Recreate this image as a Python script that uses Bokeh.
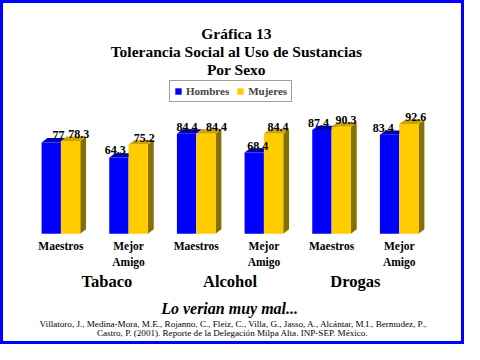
from bokeh.plotting import figure
from bokeh.models import Range1d, Legend, LegendItem
from bokeh.embed import file_html
from bokeh.resources import INLINE
from bokeh.core.properties import value

# ---------------- data ----------------
categories_line1 = ["Maestros", "Mejor", "Maestros", "Mejor", "Maestros", "Mejor"]
categories_line2 = ["", "Amigo", "", "Amigo", "", "Amigo"]
groups = ["Tabaco", "Alcohol", "Drogas"]
series = ["Hombres", "Mujeres"]
hombres = [77, 64.3, 84.4, 68.4, 87.4, 83.4]
mujeres = [78.3, 75.2, 84.4, 84.4, 90.3, 92.6]
title_lines = ["Gráfica 13", "Tolerancia Social al Uso de Sustancias", "Por Sexo"]
subtitle = "Lo verian muy mal..."
citation = ["Villatoro, J., Medina-Mora, M.E., Rojanno, C., Fleiz, C., Villa, G., Jasso, A., Alcántar, M.I., Bermudez, P.,",
            "Castro, P. (2001). Reporte de la Delegación Milpa Alta. INP-SEP. México."]

# ---------------- style / layout (reference pixel space 480x360) ----------------
REF_W, REF_H = 480, 360
W, H = 464, 344
X0_PX, PX_PER_X = 62.5, 70.0
Y0_PX, PX_PER_Y = 244.0, 1.24
label_dx_h_px = [7.5, -3.8, 0.5, 3.5, -3.5, -6.5]   # label nudges, px
label_dx_m_px = [8.5, 6.2, 11.0, 4.5, 5.0, 7.0]
group_dx_px = [12.5, 0, -10.5]

def fx(px): return (px - X0_PX) / PX_PER_X
def fy(py): return (Y0_PX - py) / PX_PER_Y
def dxp(px): return px / PX_PER_X
def dyp(py): return py / PX_PER_Y

SERIF = "Liberation Serif"
BLUE, BLUE_TOP = "#0000FF", "#0000B4"
GOLD, GOLD_TOP, GOLD_SIDE = "#FFCC00", "#CCA300", "#857000"

p = figure(width=W, height=H,
           x_range=Range1d(fx(0), fx(REF_W)), y_range=Range1d(fy(REF_H), fy(0)),
           output_backend="svg", toolbar_location=None,
           x_axis_location=None, y_axis_location=None,
           min_border=0, min_border_left=0, min_border_right=0,
           min_border_top=0, min_border_bottom=0)
p.xgrid.visible = False
p.ygrid.visible = False
p.background_fill_color = "white"
p.border_fill_color = "white"
p.outline_line_color = "#0000FF"
p.outline_line_width = 5

bw = dxp(20)
ddx = dxp(6)
ddy = dyp(4.5)
idx = list(range(len(hombres)))
xb = [i - bw / 2 for i in idx]
xy = [i + bw / 2 for i in idx]

def top_face(xc, v):
    l, r = xc - bw / 2, xc + bw / 2
    return [l, l + ddx, r + ddx, r], [v, v + ddy, v + ddy, v]

def side_face(xc, v):
    r = xc + bw / 2
    return [r, r + ddx, r + ddx, r], [0, ddy, v + ddy, v]

# Hombres
bt = [top_face(x, v) for x, v in zip(xb, hombres)]
p.patches([t[0] for t in bt], [t[1] for t in bt], fill_color=BLUE_TOP, line_color=None)
r_h = p.vbar(x=xb, top=hombres, bottom=0, width=bw, fill_color=BLUE, line_color=None)

# Mujeres
ys = [side_face(x, v) for x, v in zip(xy, mujeres)]
p.patches([t[0] for t in ys], [t[1] for t in ys], fill_color=GOLD_SIDE, line_color=None)
yt = [top_face(x, v) for x, v in zip(xy, mujeres)]
p.patches([t[0] for t in yt], [t[1] for t in yt], fill_color=GOLD_TOP, line_color=None)
r_m = p.vbar(x=xy, top=mujeres, bottom=0, width=bw, fill_color=GOLD, line_color=None)

# value labels
lab_fs = "12px"
p.text(x=[x + dxp(o) for x, o in zip(xb, label_dx_h_px)], y=[v + dyp(7.3) for v in hombres],
       text=[f"{v:g}" for v in hombres], text_align="center", text_baseline="alphabetic",
       text_font=value(SERIF), text_font_style="bold", text_font_size=lab_fs, text_color="black")
p.text(x=[x + dxp(o) for x, o in zip(xy, label_dx_m_px)], y=[v + dyp(7.3) for v in mujeres],
       text=[f"{v:g}" for v in mujeres], text_align="center", text_baseline="alphabetic",
       text_font=value(SERIF), text_font_style="bold", text_font_size=lab_fs, text_color="black")

# category labels
p.text(x=idx, y=[fy(257)] * len(idx), text=categories_line1, text_align="center",
       text_baseline="middle", text_font=value(SERIF), text_font_style="bold",
       text_font_size="11.5px", text_color="black")
p.text(x=idx, y=[fy(274)] * len(idx), text=categories_line2, text_align="center",
       text_baseline="middle", text_font=value(SERIF), text_font_style="bold",
       text_font_size="11.5px", text_color="black")

# group labels
gx = [(idx[2 * g] + idx[2 * g + 1]) / 2 + dxp(o) for g, o in enumerate(group_dx_px)]
p.text(x=gx, y=[fy(294)] * len(groups), text=groups, text_align="center",
       text_baseline="middle", text_font=value(SERIF), text_font_style="bold",
       text_font_size="16.5px", text_color="black")

# title
p.text(x=[fx(244)] * 3, y=[fy(35), fy(53.5), fy(72.5)], text=title_lines,
       text_align="center", text_baseline="middle", text_font=value(SERIF),
       text_font_style="bold", text_font_size="15.5px", text_color="black")

# subtitle & citation
p.text(x=[fx(237)], y=[fy(322)], text=[subtitle], text_align="center",
       text_baseline="middle", text_font=value(SERIF), text_font_style="bold italic",
       text_font_size="16px", text_color="black")
p.text(x=[fx(241), fx(240)], y=[fy(339), fy(348)], text=citation, text_align="center",
       text_baseline="middle", text_font=value(SERIF), text_font_style="normal",
       text_font_size="9.1px", text_color="black")

# legend
legend = Legend(items=[LegendItem(label=series[0], renderers=[r_h]),
                       LegendItem(label=series[1], renderers=[r_m])],
                orientation="horizontal", location=(169, 242),
                glyph_width=8, glyph_height=8, label_height=12, label_standoff=4,
                spacing=7, padding=4, margin=0,
                label_text_font=SERIF, label_text_font_style="bold",
                label_text_font_size="11px",
                border_line_color="#404040", border_line_width=1,
                background_fill_color="white", background_fill_alpha=1.0)
p.add_layout(legend, "center")

open("out.html", "w").write(file_html(p, INLINE))
